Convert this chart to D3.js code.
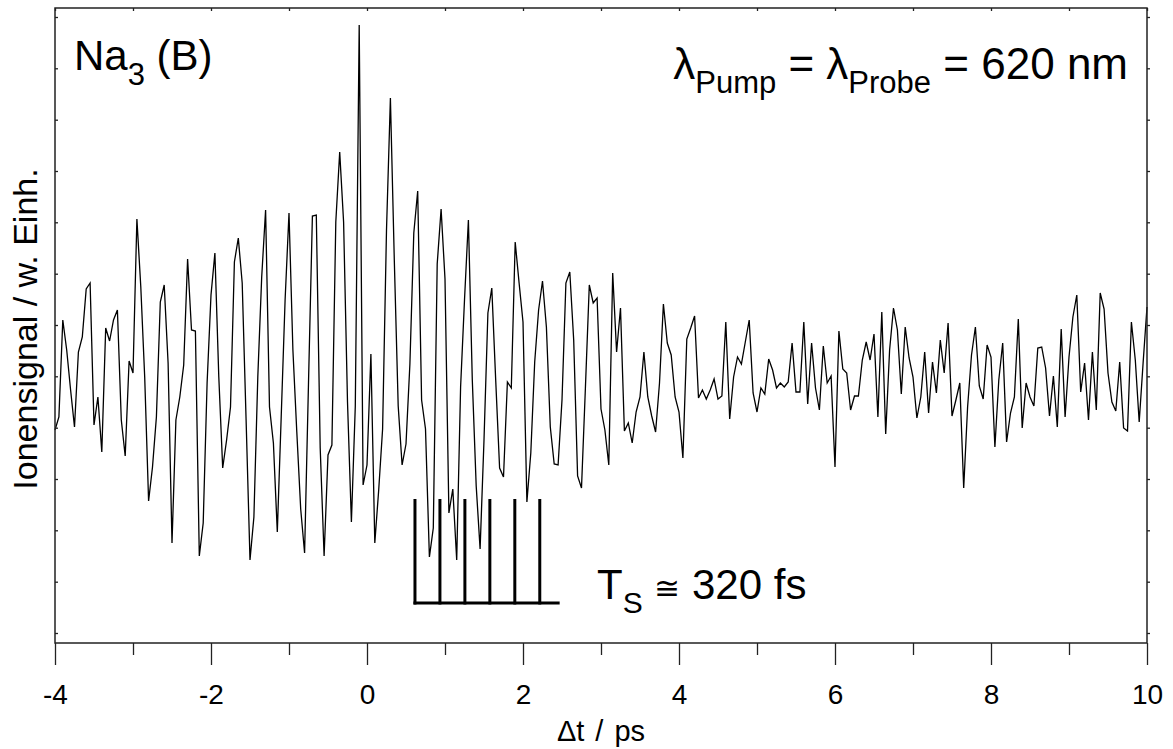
<!DOCTYPE html>
<html><head><meta charset="utf-8">
<script src="https://cdn.jsdelivr.net/npm/d3@7"></script>
<style>
body{margin:0;background:#fff}
svg{display:block}
text{font-family:"Liberation Sans",Arial,Helvetica,sans-serif;fill:#000}
</style>
</head><body>
<svg id="chart" width="1173" height="749"></svg>
<script>
// ---- data ----
const tStart = -4;          // ps, first delay
const tStep = 0.05;         // ps, delay step
const signal = [
213,226,323,293,253,216,291,306,354,360,
218,246,191,315,302,323,333,223,187,282,
270,424,356,266,142,176,226,341,358,280,
100,223,246,278,384,313,312,87,120,260,
348,390,266,175,203,236,381,405,360,223,
83,126,266,366,433,236,200,111,226,343,
430,293,211,134,90,260,427,428,195,87,
188,198,421,491,421,241,121,237,618,158,
178,289,100,153,214,413,545,383,237,178,
199,279,410,452,243,214,86,115,379,434,
364,130,154,83,256,343,423,263,157,94,
203,330,355,263,175,166,261,255,401,360,
321,141,190,281,333,362,316,216,179,178,
243,360,371,303,167,155,255,358,340,345,
234,213,178,370,291,335,212,220,200,231,
246,291,246,227,211,260,339,300,288,246,
231,185,304,315,327,245,253,244,253,264,
244,247,321,224,266,286,279,301,323,250,
231,255,249,284,273,255,260,256,261,300,
251,251,321,239,300,255,233,297,260,267,
176,312,274,270,233,247,247,283,301,283,
309,226,331,209,293,335,313,249,316,285,
266,225,246,291,230,281,250,303,270,320,
227,243,260,155,236,288,316,257,244,298,
286,196,263,300,201,230,246,324,215,260,
246,237,295,296,275,227,267,216,314,226,
286,326,348,251,280,223,291,233,350,334,
270,241,232,281,215,212,321,283,221,280,336
];
const xDomain = [-4, 10];
const yDomain = [0, 635];
const xMajorTicks = [-4, -2, 0, 2, 4, 6, 8, 10];
const xMajorLabels = ["-4", "-2", "0", "2", "4", "6", "8", "10"];
const xMinorTicks = [-3, -1, 1, 3, 5, 7, 9];
const xAllTicks = [-4,-3,-2,-1,0,1,2,3,4,5,6,7,8,9,10];
const yTicks = [10, 61.3, 112.7, 164, 215.3, 266.7, 318, 369.3, 420.7, 472, 523.3, 574.7, 626];
const combTimes = [0.615, 0.935, 1.255, 1.575, 1.895, 2.215];
const combEnd = 2.47;
const combTop = 144;
const combBase = 40;

// ---- layout ----
const W = 1173, H = 749;
const m = {l: 55, t: 8, r: 26, b: 106};
const svg = d3.select("#chart");
const x = d3.scaleLinear().domain(xDomain).range([m.l, W - m.r]);
const y = d3.scaleLinear().domain(yDomain).range([H - m.b, m.t]);
const axisColor = "#222";

const data = signal.map((v, i) => ({t: tStart + i * tStep, v}));

// data line
svg.append("path")
  .datum(data)
  .attr("fill", "none")
  .attr("stroke", "#000")
  .attr("stroke-width", 1.3)
  .attr("stroke-linejoin", "miter")
  .attr("d", d3.line().x(d => x(d.t)).y(d => y(d.v)));

// comb annotation
const comb = svg.append("g").attr("stroke", "#000").attr("stroke-width", 3);
comb.selectAll("line.v").data(combTimes).join("line")
  .attr("class", "v")
  .attr("x1", d => x(d)).attr("x2", d => x(d))
  .attr("y1", y(combTop)).attr("y2", y(combBase) + 1.5);
comb.append("line")
  .attr("x1", x(combTimes[0]) - 1.5).attr("x2", x(combEnd))
  .attr("y1", y(combBase)).attr("y2", y(combBase));

// axes
function styleAxis(g) {
  g.select(".domain").remove();
  g.selectAll(".tick line").attr("stroke", axisColor).attr("stroke-width", 1.3);
}
const bottomMajor = svg.append("g")
  .attr("transform", `translate(0,${H - m.b})`)
  .call(d3.axisBottom(x).tickValues(xMajorTicks).tickSize(22).tickPadding(19)
    .tickFormat((d, i) => xMajorLabels[i]));
styleAxis(bottomMajor);
bottomMajor.selectAll("text").attr("font-size", 28)
  .attr("font-family", '"Liberation Sans",Arial,sans-serif').attr("fill", "#000");

const bottomMinor = svg.append("g")
  .attr("transform", `translate(0,${H - m.b})`)
  .call(d3.axisBottom(x).tickValues(xMinorTicks).tickSize(12).tickFormat(""));
styleAxis(bottomMinor);

const topAxis = svg.append("g")
  .attr("transform", `translate(0,${m.t})`)
  .call(d3.axisTop(x).tickValues(xAllTicks).tickSize(-3).tickFormat(""));
styleAxis(topAxis);

const leftAxis = svg.append("g")
  .attr("transform", `translate(${m.l},0)`)
  .call(d3.axisLeft(y).tickValues(yTicks).tickSize(-3).tickFormat(""));
styleAxis(leftAxis);

const rightAxis = svg.append("g")
  .attr("transform", `translate(${W - m.r},0)`)
  .call(d3.axisRight(y).tickValues(yTicks).tickSize(3).tickFormat(""));
styleAxis(rightAxis);

// frame
svg.append("rect")
  .attr("x", m.l).attr("y", m.t)
  .attr("width", W - m.l - m.r).attr("height", H - m.t - m.b)
  .attr("fill", "none").attr("stroke", axisColor).attr("stroke-width", 1.5);

// axis titles
const xt = svg.append("text")
  .attr("x", (m.l + W - m.r) / 2).attr("y", 741)
  .attr("text-anchor", "middle").attr("font-size", 29);
xt.append("tspan").text("\u0394t");
xt.append("tspan").attr("dx", 3).text("/");
xt.append("tspan").attr("dx", 3).text("ps");
xt.selectAll("tspan").filter((d, i) => i > 0).each(function() {
  d3.select(this).text(" " + d3.select(this).text());
});

svg.append("text")
  .attr("transform", "translate(37,329) rotate(-90)")
  .attr("text-anchor", "middle").attr("font-size", 34)
  .text("Ionensignal / w. Einh.");

// annotations
const na = svg.append("text").attr("x", 74).attr("y", 70).attr("font-size", 42);
na.append("tspan").text("Na");
na.append("tspan").attr("font-size", 31).attr("dy", 15).text("3");
na.append("tspan").attr("dy", -15).text(" (B)");

const lam = svg.append("text").attr("x", 1128).attr("y", 79)
  .attr("font-size", 44).attr("text-anchor", "end");
lam.append("tspan").text("\u03bb");
lam.append("tspan").attr("font-size", 31).attr("dy", 14).text("Pump");
lam.append("tspan").attr("dy", -14).text(" = \u03bb");
lam.append("tspan").attr("font-size", 31).attr("dy", 14).text("Probe");
lam.append("tspan").attr("dy", -14).text(" = 620 nm");

const ts = svg.append("text").attr("x", 597).attr("y", 599).attr("font-size", 42);
ts.append("tspan").text("T");
ts.append("tspan").attr("font-size", 30).attr("dy", 14).text("S");
ts.append("tspan").attr("dy", -14).text(" ");
ts.append("tspan").attr("font-size", 31).attr("font-family", '"DejaVu Sans",sans-serif').text("\u2245");
ts.append("tspan").text(" 320 fs");
</script>
</body></html>
